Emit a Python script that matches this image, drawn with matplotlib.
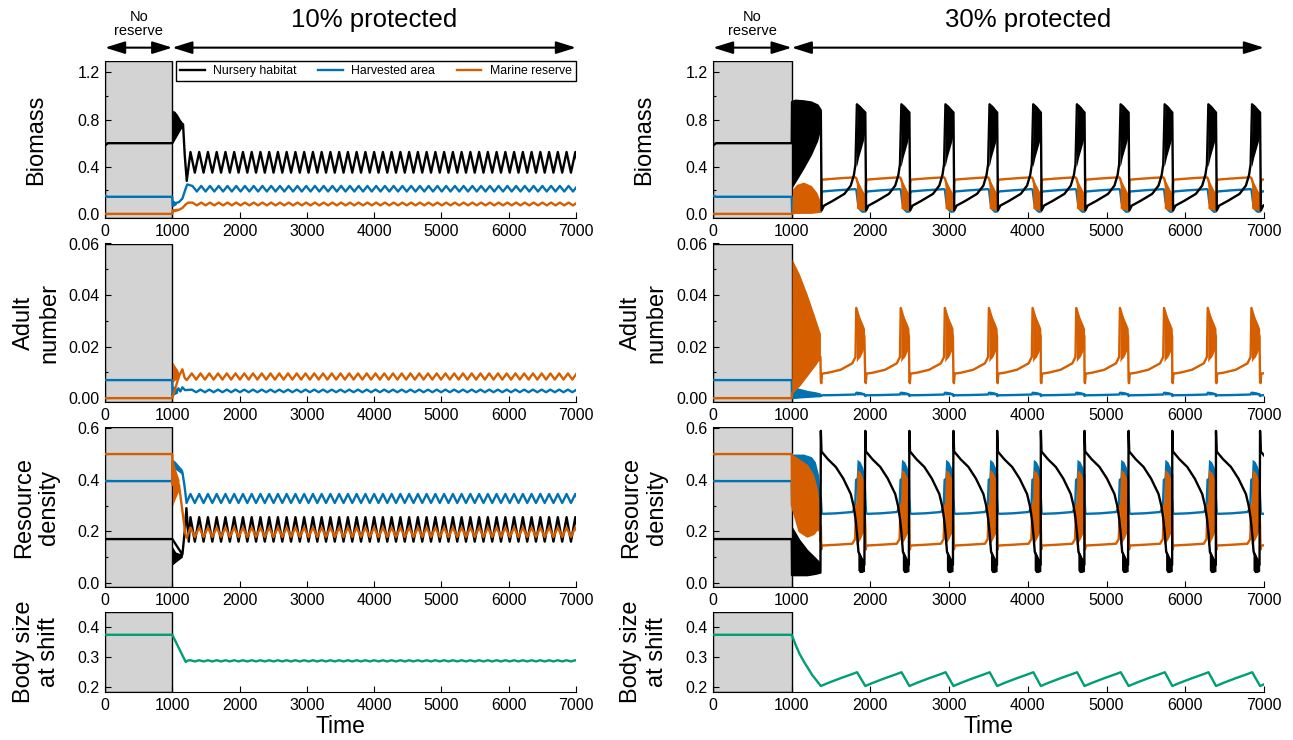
import matplotlib.pyplot as plt
from matplotlib.patches import Rectangle
from matplotlib.lines import Line2D
from matplotlib.ticker import MultipleLocator, FormatStrFormatter

plt.rcParams['font.family'] = ['Liberation Sans', 'DejaVu Sans']

BLACK = 'black'
BLUE = '#0072B2'
ORANGE = '#D55E00'
GREEN = '#009E73'
SHADE = '#d3d3d3'
LW = 1.7

T_END = 7000
T_RES = 1000

# ---------------- before the reserve (same in both runs) ----------------
start_bio = [0.58, 0.155, 0.0]      # nursery, harvested, reserve at t = 0
pre_bio = [0.60, 0.145, 0.0]
pre_adult = [0.007, 0.0]            # harvested, reserve
pre_res = [0.17, 0.395, 0.50]       # nursery, harvested, reserve
pre_size = 0.374

# ---------------- 10 % protected ----------------
# maxima of the limit cycle that sets in after the transient
peaks10 = [1270, 1400, 1530, 1660, 1790, 1920, 2050, 2180, 2310, 2440,
           2570, 2700, 2830, 2960, 3090, 3220, 3350, 3480, 3610, 3740,
           3870, 4000, 4130, 4260, 4390, 4520, 4650, 4780, 4910, 5040,
           5170, 5300, 5430, 5560, 5690, 5820, 5950, 6080, 6210, 6340,
           6470, 6600, 6730, 6860, 6990]
half10 = 65

# biomass
bio10_nur_t = [1000, 1160, 1185, 1215]
bio10_nur_y = [0.60, 0.76, 0.50, 0.28]
bio10_nur_band = ([1000, 1005, 1040, 1080, 1120, 1160],
                  [0.60, 0.62, 0.66, 0.70, 0.72, 0.74],
                  [0.60, 0.88, 0.87, 0.84, 0.80, 0.77])
bio10_nur_osc = (0.35, 0.525, 0)
bio10_har_t = [1000, 1006, 1040, 1100, 1150, 1190, 1222]
bio10_har_y = [0.145, 0.07, 0.09, 0.10, 0.13, 0.20, 0.25]
bio10_har_band = ([1000, 1006, 1030, 1060],
                  [0.145, 0.06, 0.07, 0.08],
                  [0.145, 0.12, 0.11, 0.10])
bio10_har_osc = (0.19, 0.237, 30)
bio10_mar_t = [1000, 1005, 1100, 1150, 1200, 1235]
bio10_mar_y = [0.0, 0.03, 0.035, 0.05, 0.08, 0.095]
bio10_mar_band = ([1000, 1005, 1040, 1080],
                  [0.0, 0.015, 0.02, 0.025],
                  [0.0, 0.045, 0.045, 0.04])
bio10_mar_osc = (0.072, 0.096, 30)

# adult number
adu10_har_t = [1000, 1004, 1030, 1060, 1090, 1120, 1150, 1190]
adu10_har_y = [0.007, 0.001, 0.004, 0.0022, 0.0038, 0.0026, 0.0042, 0.0031]
adu10_har_band = ([1000, 1004, 1040, 1080],
                  [0.007, 0.001, 0.0015, 0.002],
                  [0.007, 0.0042, 0.004, 0.0037])
adu10_har_osc = (0.0023, 0.0033, 20)
adu10_mar_t = [1000, 1100, 1150, 1185, 1215]
adu10_mar_y = [0.0, 0.0085, 0.0112, 0.0078, 0.007]
adu10_mar_band = ([1000, 1004, 1040, 1080, 1100],
                  [0.0, 0.006, 0.007, 0.0072, 0.008],
                  [0.0, 0.014, 0.0125, 0.011, 0.0095])
adu10_mar_osc = (0.0072, 0.0096, 20)

# resource density
res10_nur_t = [1000, 1150, 1185, 1210, 1245]
res10_nur_y = [0.17, 0.11, 0.20, 0.29, 0.16]
res10_nur_band = ([1000, 1004, 1050, 1100, 1150],
                  [0.17, 0.07, 0.08, 0.09, 0.10],
                  [0.17, 0.14, 0.12, 0.115, 0.115])
res10_nur_osc = (0.16, 0.255, 0)
res10_har_t = [1000, 1150, 1180, 1212]
res10_har_y = [0.47, 0.43, 0.38, 0.31]
res10_har_band = ([1000, 1004, 1050, 1100, 1150],
                  [0.395, 0.44, 0.44, 0.43, 0.42],
                  [0.395, 0.48, 0.47, 0.455, 0.44])
res10_har_osc = (0.31, 0.345, 0)
res10_mar_t = [1000, 1100, 1150, 1195, 1215]
res10_mar_y = [0.38, 0.38, 0.28, 0.19, 0.175]
res10_mar_band = ([1000, 1004, 1050, 1100],
                  [0.50, 0.30, 0.33, 0.36],
                  [0.50, 0.48, 0.44, 0.40])
res10_mar_osc = (0.178, 0.215, 0)

# body size at habitat shift
size10_t = [1000, 1200, 1230]
size10_y = [0.374, 0.283, 0.288]
size10_osc = (0.285, 0.289, 0)

# ---------------- 30 % protected ----------------
# times at which the nursery biomass collapses (one per cycle)
drops30 = [1370, 1935, 2495, 3055, 3610, 4165, 4720, 5280, 5835, 6390, 6950]

# first, long transient cycle (t = 1000 .. 1370): envelopes (t, low, high)
bio30_nur_first = ([1000, 1004, 1050, 1150, 1250, 1330, 1368],
                   [0.60, 0.22, 0.27, 0.38, 0.50, 0.62, 0.72],
                   [0.60, 0.95, 0.96, 0.955, 0.945, 0.92, 0.88])
bio30_har_first_t = [1000, 1005, 1100, 1250, 1340, 1366]
bio30_har_first_y = [0.145, 0.01, 0.015, 0.03, 0.06, 0.09]
bio30_mar_first = ([1000, 1010, 1060, 1150, 1250, 1320, 1368],
                   [0.0, 0.005, 0.01, 0.01, 0.01, 0.015, 0.02],
                   [0.0, 0.21, 0.25, 0.27, 0.24, 0.18, 0.10])
adu30_har_first = ([1000, 1004, 1100, 1200, 1300, 1365],
                   [0.007, 0.0, 0.0003, 0.0005, 0.0007, 0.0008],
                   [0.007, 0.0045, 0.0038, 0.003, 0.0025, 0.002])
adu30_mar_first = ([1000, 1004, 1100, 1200, 1300, 1365],
                   [0.0, 0.002, 0.005, 0.009, 0.013, 0.016],
                   [0.0, 0.054, 0.048, 0.040, 0.031, 0.025])
res30_nur_first = ([1000, 1004, 1100, 1200, 1300, 1365],
                   [0.17, 0.03, 0.03, 0.03, 0.035, 0.04],
                   [0.17, 0.22, 0.17, 0.13, 0.10, 0.08])
res30_har_first = ([1000, 1004, 1150, 1250, 1300, 1340, 1368],
                   [0.395, 0.30, 0.30, 0.30, 0.30, 0.28, 0.27],
                   [0.395, 0.50, 0.50, 0.49, 0.47, 0.42, 0.30])
res30_mar_first = ([1000, 1004, 1100, 1200, 1280, 1330, 1360, 1368],
                   [0.50, 0.30, 0.20, 0.18, 0.19, 0.21, 0.20, 0.16],
                   [0.50, 0.50, 0.48, 0.46, 0.42, 0.36, 0.28, 0.20])
size30_first_t = [1000, 1050, 1100, 1158, 1260]
size30_first_y = [0.374, 0.34, 0.31, 0.283, 0.24]

# one cycle, time measured from the collapse (offset, value)
bio30_nur_off = [0, 10, 40, 150, 300, 380, 420, 440, 450, 458]
bio30_nur_val = [0.86, 0.03, 0.07, 0.11, 0.17, 0.24, 0.33, 0.42, 0.70, 0.93]
bio30_nur_band = ([450, 460, 480, 510, 540, 555],
                  [0.40, 0.42, 0.48, 0.55, 0.62, 0.68],
                  [0.60, 0.93, 0.93, 0.91, 0.88, 0.86])
bio30_har_off = [0, 8, 20, 200, 440, 452, 470, 500, 530]
bio30_har_val = [0.02, 0.17, 0.19, 0.20, 0.21, 0.20, 0.10, 0.035, 0.018]
bio30_mar_off = [0, 8, 15, 100, 300, 440, 452]
bio30_mar_val = [0.03, 0.25, 0.29, 0.295, 0.305, 0.31, 0.30]
bio30_mar_band = ([452, 470, 500, 530, 555],
                  [0.05, 0.04, 0.035, 0.03, 0.03],
                  [0.31, 0.28, 0.24, 0.20, 0.17])

adu30_har_off = [0, 8, 200, 440, 452, 553]
adu30_har_val = [0.0008, 0.0011, 0.0012, 0.0014, 0.0021, 0.0015]
adu30_har_band = ([452, 470, 520, 555],
                  [0.0012, 0.0013, 0.0013, 0.0012],
                  [0.0022, 0.0027, 0.0023, 0.0019])
adu30_mar_off = [0, 6, 15, 100, 250, 400, 440, 450, 553]
adu30_mar_val = [0.0065, 0.0058, 0.0095, 0.0099, 0.011, 0.0135, 0.016, 0.035, 0.024]
adu30_mar_band = ([450, 470, 500, 530, 555],
                  [0.014, 0.015, 0.016, 0.018, 0.020],
                  [0.035, 0.033, 0.031, 0.029, 0.027])

res30_nur_off = [0, 8, 90, 190, 285, 380, 415, 440, 460, 478, 553]
res30_nur_val = [0.59, 0.51, 0.48, 0.45, 0.405, 0.345, 0.30, 0.25, 0.19, 0.12, 0.07]
res30_nur_band = ([470, 490, 520, 555],
                  [0.05, 0.04, 0.04, 0.045],
                  [0.13, 0.12, 0.10, 0.08])
res30_har_off = [0, 10, 30, 200, 400, 435, 448, 553]
res30_har_val = [0.33, 0.27, 0.268, 0.27, 0.275, 0.29, 0.40, 0.42]
res30_har_band = ([448, 460, 500, 530, 555],
                  [0.30, 0.30, 0.30, 0.30, 0.30],
                  [0.40, 0.48, 0.47, 0.45, 0.42])
res30_mar_off = [0, 6, 15, 200, 400, 435, 448, 553]
res30_mar_val = [0.22, 0.13, 0.145, 0.148, 0.152, 0.17, 0.30, 0.30]
res30_mar_band = ([448, 460, 500, 530, 555],
                  [0.15, 0.15, 0.17, 0.19, 0.21],
                  [0.30, 0.44, 0.43, 0.41, 0.38])

size30_off = [0, 100, 250, 400, 460]
size30_val = [0.203, 0.214, 0.229, 0.243, 0.249]

legend_labels = ['Nursery habitat', 'Harvested area', 'Marine reserve']
ylabels = ['Biomass', 'Adult\nnumber', 'Resource\ndensity', 'Body size\nat shift']


# ---------------- helpers ----------------
def zigzag(peaks, osc):
    lo, hi, shift = osc
    t, y = [], []
    for p in peaks:
        t += [p + shift, p + shift + half10]
        y += [hi, lo]
    return t, y


def repeat(drops, off, val):
    t, y = [], []
    for d in drops:
        for o, v in zip(off, val):
            t.append(d + o)
            y.append(v)
    return t, y


def line(ax, parts, color, z):
    t, y = [], []
    for pt, py in parts:
        t += list(pt)
        y += list(py)
    ax.plot(t, y, color=color, lw=LW, zorder=z)


def band(ax, b, color, z, shifts=(0,)):
    bt, lo, hi = b
    for s in shifts:
        ax.fill_between([s + x for x in bt], lo, hi, color=color, lw=0, zorder=z)


def pre(v):
    return [0, T_RES], [v, v]


# ---------------- figure ----------------
fig = plt.figure(figsize=(12.93, 7.40), dpi=100)

W, H = 1293, 740
cols = [(105, 471), (713, 551)]
label_x = [36.5, 644]
rows = [(60.7, 218), (243.5, 402), (427, 587), (612, 692)]
ylims = [(-0.035, 1.3), (-0.0015, 0.06), (-0.016, 0.605), (0.183, 0.45)]
ymaj = [0.4, 0.02, 0.2, 0.1]
ymin = [0.2, 0.01, 0.1, None]
yfmt = ['%.1f', '%.2f', '%.1f', '%.1f']

axes = []
for c, (cx, cw) in enumerate(cols):
    col = []
    for r, (top, bot) in enumerate(rows):
        ax = fig.add_axes([cx / W, 1 - bot / H, cw / W, (bot - top) / H])
        ax.set_xlim(0, T_END)
        ax.set_ylim(*ylims[r])
        ax.add_patch(Rectangle((0, ylims[r][0]), T_RES, ylims[r][1] - ylims[r][0],
                               facecolor=SHADE, edgecolor='black', lw=1.0, zorder=1))
        ax.spines['top'].set_visible(False)
        ax.spines['right'].set_visible(False)
        ax.xaxis.set_major_locator(MultipleLocator(1000))
        ax.yaxis.set_major_locator(MultipleLocator(ymaj[r]))
        if ymin[r]:
            ax.yaxis.set_minor_locator(MultipleLocator(ymin[r]))
        ax.yaxis.set_major_formatter(FormatStrFormatter(yfmt[r]))
        ax.tick_params(which='major', direction='in', length=4, width=0.8,
                       labelsize=11.5, pad=4)
        ax.tick_params(which='minor', direction='in', length=2.5, width=0.8)
        ax.text((label_x[c] - cx) / cw, 0.5, ylabels[r], rotation=90,
                ha='center', va='center', fontsize=17, transform=ax.transAxes)
        col.append(ax)
    axes.append(col)

# ---- 10 % protected ----
a = axes[0]
band(a[0], bio10_nur_band, BLACK, 2)
band(a[0], bio10_har_band, BLUE, 3)
band(a[0], bio10_mar_band, ORANGE, 4)
line(a[0], [([0, 40, T_RES], [start_bio[0], pre_bio[0], pre_bio[0]]),
            (bio10_nur_t, bio10_nur_y), zigzag(peaks10, bio10_nur_osc)], BLACK, 2)
line(a[0], [([0, 40, T_RES], [start_bio[1], pre_bio[1], pre_bio[1]]),
            (bio10_har_t, bio10_har_y), zigzag(peaks10, bio10_har_osc)], BLUE, 3)
line(a[0], [pre(pre_bio[2]), (bio10_mar_t, bio10_mar_y),
            zigzag(peaks10, bio10_mar_osc)], ORANGE, 4)

band(a[1], adu10_har_band, BLUE, 3)
band(a[1], adu10_mar_band, ORANGE, 4)
line(a[1], [pre(pre_adult[0]), (adu10_har_t, adu10_har_y),
            zigzag(peaks10, adu10_har_osc)], BLUE, 3)
line(a[1], [pre(pre_adult[1]), (adu10_mar_t, adu10_mar_y),
            zigzag(peaks10, adu10_mar_osc)], ORANGE, 4)

band(a[2], res10_nur_band, BLACK, 2)
band(a[2], res10_har_band, BLUE, 3)
band(a[2], res10_mar_band, ORANGE, 4)
line(a[2], [pre(pre_res[0]), (res10_nur_t, res10_nur_y),
            zigzag(peaks10, res10_nur_osc)], BLACK, 2)
line(a[2], [pre(pre_res[1]), (res10_har_t, res10_har_y),
            zigzag(peaks10, res10_har_osc)], BLUE, 3)
line(a[2], [pre(pre_res[2]), (res10_mar_t, res10_mar_y),
            zigzag(peaks10, res10_mar_osc)], ORANGE, 4)

line(a[3], [pre(pre_size), (size10_t, size10_y), zigzag(peaks10, size10_osc)], GREEN, 3)

# ---- 30 % protected ----
b = axes[1]
band(b[0], bio30_nur_first, BLACK, 5)
band(b[0], bio30_mar_first, ORANGE, 4)
band(b[0], bio30_nur_band, BLACK, 5, drops30)
band(b[0], bio30_mar_band, ORANGE, 4, drops30)
line(b[0], [([0, 40, T_RES], [start_bio[0], pre_bio[0], pre_bio[0]]),
            (bio30_nur_first[0], bio30_nur_first[2]),
            repeat(drops30, bio30_nur_off, bio30_nur_val)], BLACK, 5)
line(b[0], [([0, 40, T_RES], [start_bio[1], pre_bio[1], pre_bio[1]]),
            (bio30_har_first_t, bio30_har_first_y),
            repeat(drops30, bio30_har_off, bio30_har_val)], BLUE, 3)
line(b[0], [pre(pre_bio[2]), (bio30_mar_first[0], bio30_mar_first[1]),
            repeat(drops30, bio30_mar_off, bio30_mar_val)], ORANGE, 4)

band(b[1], adu30_har_first, BLUE, 3)
band(b[1], adu30_mar_first, ORANGE, 4)
band(b[1], adu30_har_band, BLUE, 3, drops30)
band(b[1], adu30_mar_band, ORANGE, 4, drops30)
line(b[1], [pre(pre_adult[0]), (adu30_har_first[0], adu30_har_first[1]),
            repeat(drops30, adu30_har_off, adu30_har_val)], BLUE, 3)
line(b[1], [pre(pre_adult[1]), (adu30_mar_first[0], adu30_mar_first[1]),
            repeat(drops30, adu30_mar_off, adu30_mar_val)], ORANGE, 4)

band(b[2], res30_nur_first, BLACK, 5)
band(b[2], res30_har_first, BLUE, 3)
band(b[2], res30_mar_first, ORANGE, 4)
band(b[2], res30_nur_band, BLACK, 5, drops30)
band(b[2], res30_har_band, BLUE, 3, drops30)
band(b[2], res30_mar_band, ORANGE, 4, drops30)
line(b[2], [pre(pre_res[0]), (res30_nur_first[0], res30_nur_first[1]),
            repeat(drops30, res30_nur_off, res30_nur_val)], BLACK, 5)
line(b[2], [pre(pre_res[1]), (res30_har_first[0], res30_har_first[1]),
            repeat(drops30, res30_har_off, res30_har_val)], BLUE, 3)
line(b[2], [pre(pre_res[2]), (res30_mar_first[0], res30_mar_first[1]),
            repeat(drops30, res30_mar_off, res30_mar_val)], ORANGE, 4)

line(b[3], [pre(pre_size), (size30_first_t, size30_first_y),
            repeat(drops30, size30_off, size30_val)], GREEN, 3)

# ---- legend ----
handles = [Line2D([], [], color=c, lw=LW) for c in (BLACK, BLUE, ORANGE)]
leg = axes[0][0].legend(handles, legend_labels, ncol=3, loc='upper left',
                        bbox_to_anchor=(71 / 471, 0.86, 1 - 71 / 471, 0.14),
                        mode='expand', fontsize=8.8, frameon=True, fancybox=False,
                        framealpha=1, edgecolor='black', borderaxespad=0,
                        borderpad=0.35, handlelength=2.0, handletextpad=0.7,
                        columnspacing=1.5)
leg.get_frame().set_linewidth(1.0)
leg.set_zorder(10)

# ---- headers: arrows and titles ----
titles = ['10% protected', '30% protected']
for c in range(2):
    ax = axes[c][0]
    tr = ax.get_xaxis_transform()
    for x0, x1 in [(0, T_RES), (T_RES, T_END)]:
        ax.annotate('', xy=(x0, 1.083), xytext=(x1, 1.083), xycoords=tr, textcoords=tr,
                    arrowprops=dict(arrowstyle='<|-|>,head_length=0.8,head_width=0.25',
                                    color='black', lw=1.5, mutation_scale=15,
                                    shrinkA=0, shrinkB=0), annotation_clip=False)
    ax.text(500, 1.236, 'No\nreserve', transform=tr, ha='center', va='center',
            fontsize=10.5, linespacing=1.0)
    ax.text(4000, 1.259, titles[c], transform=tr, ha='center', va='center',
            fontsize=18.5)
    axes[c][3].set_xlabel('Time', fontsize=16.5, labelpad=2)

fig.savefig('out.png', dpi=100)
